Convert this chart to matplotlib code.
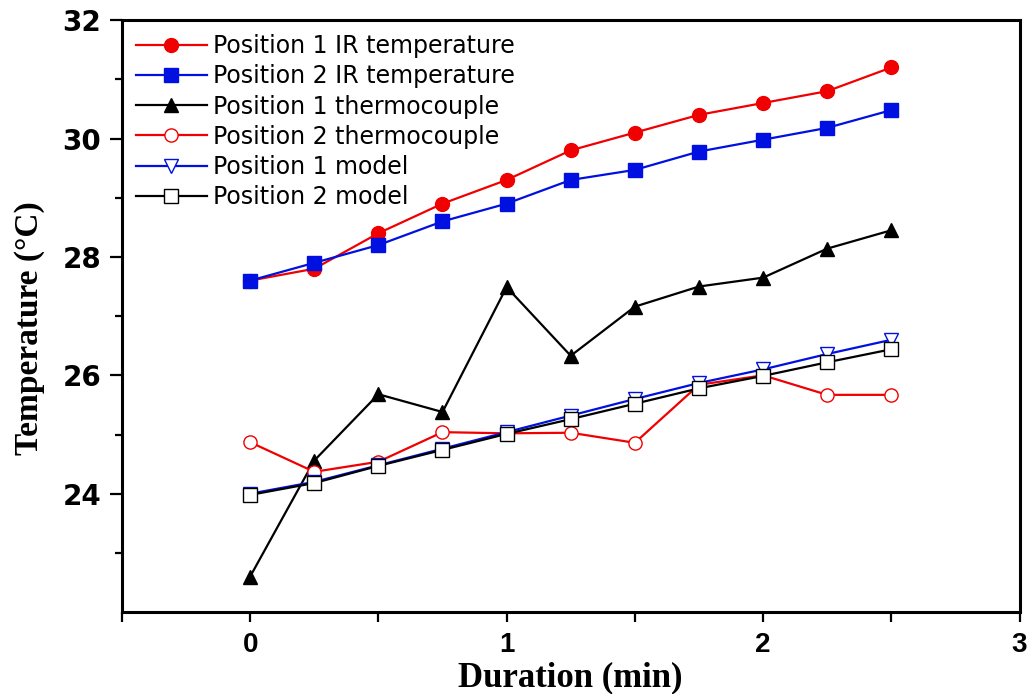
import matplotlib
matplotlib.use("Agg")
import matplotlib.pyplot as plt
from matplotlib.ticker import FixedLocator, FuncFormatter

# Sampling times (min)
duration = [0, 0.25, 0.5, 0.75, 1.0, 1.25, 1.5, 1.75, 2.0, 2.25, 2.5]

# Temperatures (°C)
pos1_ir = [27.6, 27.8, 28.4, 28.9, 29.3, 29.8, 30.1, 30.4, 30.6, 30.8, 31.2]
pos2_ir = [27.6, 27.9, 28.2, 28.6, 28.9, 29.3, 29.47, 29.78, 29.98, 30.18, 30.48]
pos1_tc = [22.6, 24.56, 25.68, 25.38, 27.49, 26.33, 27.16, 27.5, 27.65, 28.14, 28.45]
pos2_tc = [24.87, 24.37, 24.54, 25.04, 25.02, 25.03, 24.86, 25.84, 26.0, 25.67, 25.67]
pos1_model = [24.0, 24.2, 24.48, 24.76, 25.04, 25.32, 25.6, 25.87, 26.1, 26.36, 26.6]
pos2_model = [23.98, 24.18, 24.47, 24.74, 25.01, 25.26, 25.52, 25.78, 25.99, 26.22, 26.44]

labels = [
    "Position 1 IR temperature",
    "Position 2 IR temperature",
    "Position 1 thermocouple",
    "Position 2 thermocouple",
    "Position 1 model",
    "Position 2 model",
]

RED = "#f00000"
BLUE = "#0010e0"

fig = plt.figure(figsize=(10.33, 6.94), dpi=100)
ax = fig.add_axes([0.118, 0.118, 0.869, 0.853])

lw = 1.6
ax.plot(duration, pos1_ir, color=RED, lw=lw, marker="o", ms=10,
        mfc=RED, mec=RED, label=labels[0])
ax.plot(duration, pos2_ir, color=BLUE, lw=lw, marker="s", ms=9.5,
        mfc=BLUE, mec=BLUE, label=labels[1])
ax.plot(duration, pos1_tc, color="black", lw=lw, marker="^", ms=10,
        mfc="black", mec="black", label=labels[2])
ax.plot(duration, pos2_tc, color=RED, lw=lw, marker="o", ms=9.5,
        mfc="white", mec=RED, mew=1.0, label=labels[3])
ax.plot(duration, pos1_model, color=BLUE, lw=lw, marker="v", ms=9.5,
        mfc="white", mec=BLUE, mew=1.0, label=labels[4])
ax.plot(duration, pos2_model, color="black", lw=lw, marker="s", ms=9.5,
        mfc="white", mec="black", mew=1.0, label=labels[5])

ax.set_xlim(-0.5, 3)
ax.set_ylim(22, 32)

# Axis ticks: left and bottom only, pointing outward
ax.xaxis.set_major_locator(FixedLocator([-0.5, 0, 0.5, 1, 1.5, 2, 2.5, 3]))
ax.xaxis.set_major_formatter(FuncFormatter(
    lambda v, p: f"{int(v)}" if abs(v - round(v)) < 1e-9 else ""))
ax.yaxis.set_major_locator(FixedLocator([24, 26, 28, 30, 32]))
ax.yaxis.set_minor_locator(FixedLocator([23, 25, 27, 29, 31]))

ax.tick_params(axis="both", which="both", direction="out", width=1.6,
               top=False, right=False)
ax.tick_params(axis="y", which="major", length=9, pad=6)
ax.tick_params(axis="y", which="minor", length=5)
ax.tick_params(axis="x", which="major", length=7, pad=7)

for lab in ax.get_yticklabels():
    lab.set_fontfamily("DejaVu Sans")
    lab.set_fontweight("bold")
    lab.set_fontsize(20)
for lab in ax.get_xticklabels():
    lab.set_fontfamily("Liberation Sans")
    lab.set_fontweight("bold")
    lab.set_fontsize(20)

for side in ["left", "bottom", "top", "right"]:
    ax.spines[side].set_linewidth(2.2)

ax.set_xlabel("Duration (min)", fontfamily="Liberation Serif",
              fontweight="bold", fontsize=25)
ax.xaxis.set_label_coords(0.5, -0.083)
ax.set_ylabel("Temperature (°C)", fontfamily="Liberation Serif",
              fontweight="bold", fontsize=24)
ax.yaxis.set_label_coords(-0.086, 0.48)

ax.legend(loc="upper left", frameon=False, prop={"family": "DejaVu Sans",
          "size": 17}, handlelength=3.0, handletextpad=0.25,
          labelspacing=0.26, borderaxespad=0.3, borderpad=0.3)

fig.savefig("out.png", dpi=100, facecolor="white")
